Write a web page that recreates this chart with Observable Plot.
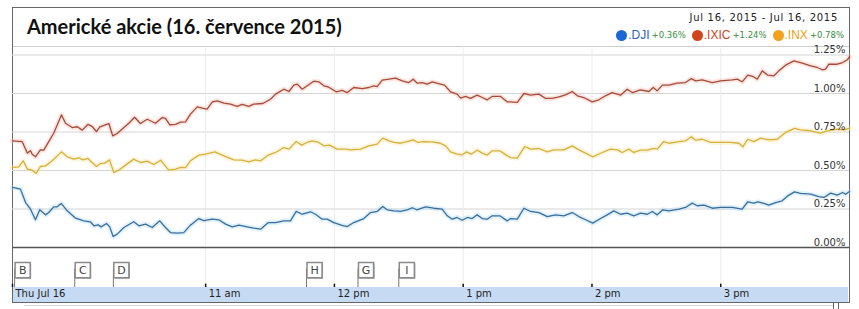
<!DOCTYPE html>
<html><head><meta charset="utf-8">
<script src="https://cdn.jsdelivr.net/npm/d3@7"></script>
<script src="https://cdn.jsdelivr.net/npm/@observablehq/plot@0.6"></script>
<style>
body{margin:0;background:#fff}
#wrap{position:relative;width:859px;height:309px;overflow:hidden;font-family:"DejaVu Sans",sans-serif}
#frame{position:absolute;left:12px;top:7px;width:838px;height:296px;box-sizing:border-box;border:1px solid #666}
#topline{position:absolute;left:13px;top:46px;width:836px;height:1px;background:#cfcfcf}
#band{position:absolute;left:13px;top:287px;width:835px;height:15px;background:#c6dbf3}
#under{position:absolute;left:24px;top:305px;width:810px;height:1px;background:#d4d4d4}
#v1{position:absolute;left:833px;top:303px;width:1px;height:6px;background:#666}
#v2{position:absolute;left:838px;top:303px;width:1px;height:6px;background:#666}
#title{position:absolute;left:27px;top:14px;font:700 20px Lato,sans-serif;color:#111;white-space:nowrap}
#range{position:absolute;right:21px;top:12px;font-size:10px;letter-spacing:.7px;color:#222;white-space:nowrap}
#legend{position:absolute;right:15px;top:28px;display:flex;align-items:center;white-space:nowrap}
.item{display:flex;align-items:center;margin-left:6px}
.dot{width:11px;height:11px;border-radius:50%;display:inline-block}
.nm{font:12px "Liberation Sans",Arial,sans-serif;margin-left:1px}
.ch{font:8.5px "DejaVu Sans",sans-serif;color:#3c8c3c;margin-left:2px}
.layer{position:absolute;left:0}
</style></head>
<body><div id="wrap">
<div id="band"></div>
<div id="frame"></div>
<div id="topline"></div>
<div id="under"></div><div id="v1"></div><div id="v2"></div>
<div id="title">Americké akcie (16. července 2015)</div>
<div id="range">Jul 16, 2015 - Jul 16, 2015</div>
<div id="legend"></div>
</div>
<script>
// [minutes after 9:30, % change]
const dji = [[0,0.390],[3.7,0.379],[6.1,0.292],[8.4,0.249],[10.7,0.180],[12.7,0.245],[15.4,0.212],[16.9,0.227],[19.2,0.264],[20.8,0.264],[22.7,0.286],[25.5,0.238],[29.4,0.190],[33.2,0.173],[36.3,0.167],[37.9,0.141],[39.9,0.147],[41.3,0.134],[43.8,0.156],[45.3,0.134],[46.9,0.071],[48.8,0.087],[51.9,0.130],[56.5,0.167],[58.9,0.141],[62.0,0.152],[65.1,0.130],[68.6,0.173],[71.3,0.130],[73.6,0.097],[76.7,0.093],[79.8,0.097],[82.9,0.145],[86.8,0.188],[89.1,0.175],[93.1,0.184],[96.1,0.180],[99.3,0.152],[102.4,0.134],[105.5,0.145],[109.4,0.134],[112.4,0.126],[115.6,0.119],[119.2,0.162],[122.6,0.162],[126.4,0.173],[129.5,0.173],[132.2,0.234],[135.0,0.216],[138.9,0.232],[141.2,0.216],[144.3,0.184],[146.6,0.184],[149.7,0.162],[153.6,0.144],[156.0,0.136],[159.0,0.162],[163.7,0.188],[166.8,0.227],[169.9,0.234],[172.5,0.266],[174.6,0.245],[177.7,0.238],[180.8,0.234],[183.9,0.245],[186.3,0.258],[188.3,0.245],[192.5,0.264],[196.3,0.255],[200.2,0.249],[202.6,0.206],[204.9,0.184],[207.2,0.195],[209.5,0.177],[211.9,0.195],[214.2,0.188],[216.5,0.212],[218.9,0.188],[221.2,0.184],[223.5,0.206],[227.1,0.206],[230.5,0.173],[232.1,0.188],[235.2,0.184],[238.3,0.255],[241.4,0.234],[245.3,0.227],[249.2,0.201],[253.0,0.212],[256.9,0.206],[260.8,0.227],[263.9,0.201],[267.0,0.180],[270.4,0.158],[274.0,0.188],[277.1,0.212],[280.2,0.238],[283.3,0.216],[286.4,0.223],[289.5,0.206],[292.6,0.223],[295.8,0.216],[298.1,0.234],[300.4,0.212],[303.0,0.245],[305.8,0.238],[310.5,0.249],[313.6,0.260],[316.7,0.288],[319.1,0.271],[322.2,0.275],[326.1,0.255],[329.9,0.260],[335.4,0.260],[340.0,0.249],[342.6,0.297],[345.4,0.288],[347.3,0.297],[350.1,0.286],[352.4,0.275],[355.6,0.292],[358.6,0.303],[361.2,0.335],[364.4,0.361],[367.2,0.351],[371.9,0.346],[375.7,0.331],[378.1,0.325],[381.2,0.353],[384.3,0.340],[386.8,0.357],[388.2,0.346],[390,0.364]];
const ixic = [[0,0.693],[4.5,0.688],[6.9,0.613],[8.4,0.628],[9.2,0.606],[10.7,0.589],[13.0,0.634],[14.6,0.632],[16.2,0.671],[19.2,0.742],[22.8,0.861],[24.7,0.807],[27.8,0.779],[30.2,0.784],[32.5,0.762],[35.1,0.799],[37.1,0.786],[39.1,0.753],[40.7,0.784],[44.9,0.805],[46.7,0.725],[48.8,0.740],[51.9,0.779],[54.2,0.807],[56.9,0.846],[59.6,0.805],[62.8,0.833],[66.6,0.807],[69.8,0.844],[71.3,0.838],[73.3,0.797],[76.0,0.799],[78.3,0.814],[80.6,0.816],[82.9,0.866],[86.1,0.913],[88.4,0.905],[90.7,0.898],[93.1,0.946],[95.4,0.952],[98.5,0.937],[101.6,0.931],[104.7,0.916],[107.0,0.929],[110.1,0.916],[112.4,0.931],[116.6,0.935],[120.2,0.963],[122.6,0.996],[126.4,1.028],[128.8,1.013],[131.1,1.054],[132.7,1.061],[135.0,1.028],[137.3,1.050],[140.4,1.080],[142.7,1.076],[145.1,1.050],[147.4,1.041],[150.8,1.011],[153.6,1.020],[156.0,1.006],[159.0,1.039],[163.0,1.032],[166.0,1.039],[168.4,1.050],[169.9,1.045],[172.3,1.087],[175.4,1.093],[178.5,1.100],[181.6,1.082],[184.7,1.071],[186.7,1.093],[188.6,1.067],[190.9,1.071],[193.2,1.061],[195.6,1.076],[199.4,1.061],[201.3,1.054],[204.1,1.011],[207.2,0.996],[208.8,0.970],[211.1,0.981],[213.4,0.968],[216.5,0.989],[218.9,0.974],[221.2,0.959],[223.5,0.981],[227.4,0.981],[230.5,0.946],[232.1,0.946],[235.2,0.942],[238.3,1.000],[241.4,0.989],[245.3,0.996],[248.4,0.968],[251.5,0.968],[254.6,0.978],[257.7,0.991],[260.8,1.013],[263.2,0.985],[266.2,0.974],[270.1,0.946],[273.2,0.959],[276.3,0.985],[279.4,1.006],[283.3,0.989],[286.4,1.028],[288.8,1.006],[292.6,1.024],[296.5,1.013],[298.6,1.039],[300.4,1.017],[302.8,1.054],[305.8,1.054],[309.7,1.067],[313.6,1.071],[316.3,1.097],[318.3,1.082],[321.4,1.089],[326.1,1.071],[329.9,1.082],[335.4,1.089],[337.7,1.093],[340.0,1.076],[342.6,1.119],[345.1,1.110],[347.0,1.093],[349.4,1.147],[351.9,1.119],[354.8,1.115],[357.1,1.147],[360.2,1.184],[364.1,1.212],[368.0,1.197],[371.9,1.180],[375.0,1.169],[377.3,1.154],[378.8,1.158],[380.4,1.190],[384.3,1.190],[386.8,1.201],[389.0,1.219],[390,1.240]];
const inx = [[0,0.519],[2.9,0.524],[5.0,0.563],[6.9,0.509],[9.2,0.502],[11.0,0.481],[13.0,0.526],[15.4,0.530],[18.5,0.563],[22.8,0.621],[25.5,0.589],[28.6,0.574],[30.9,0.582],[32.9,0.569],[35.1,0.578],[39.1,0.526],[41.0,0.545],[43.0,0.548],[45.2,0.569],[47.2,0.487],[49.5,0.502],[52.7,0.535],[56.5,0.574],[59.6,0.552],[62.8,0.561],[65.8,0.539],[69.0,0.567],[72.8,0.502],[76.0,0.509],[78.3,0.520],[80.6,0.519],[82.9,0.563],[86.8,0.600],[89.9,0.606],[94.3,0.621],[97.7,0.600],[103.1,0.569],[107.0,0.567],[110.1,0.556],[113.2,0.569],[115.6,0.563],[119.4,0.602],[122.6,0.617],[126.4,0.649],[128.8,0.639],[132.2,0.688],[134.7,0.665],[137.3,0.682],[139.7,0.693],[142.7,0.682],[145.1,0.660],[147.7,0.665],[151.3,0.639],[155.2,0.639],[157.5,0.634],[162.2,0.639],[166.0,0.660],[169.9,0.671],[172.5,0.710],[175.4,0.693],[177.7,0.682],[180.8,0.677],[183.9,0.688],[186.7,0.699],[188.9,0.682],[191.7,0.688],[195.6,0.686],[199.4,0.677],[201.8,0.660],[204.1,0.621],[207.2,0.606],[209.5,0.602],[211.6,0.621],[213.7,0.606],[216.5,0.632],[218.9,0.613],[221.2,0.600],[223.5,0.628],[227.1,0.628],[229.7,0.603],[232.1,0.584],[235.2,0.580],[238.7,0.656],[241.4,0.639],[245.3,0.643],[249.2,0.621],[252.2,0.634],[256.9,0.634],[260.8,0.660],[263.9,0.634],[267.0,0.613],[270.4,0.589],[274.8,0.617],[278.6,0.639],[281.8,0.634],[284.1,0.617],[287.2,0.639],[289.5,0.617],[292.6,0.632],[295.8,0.632],[298.8,0.643],[300.4,0.639],[303.5,0.688],[305.8,0.677],[310.5,0.688],[313.6,0.693],[316.3,0.719],[318.3,0.697],[321.4,0.703],[325.3,0.682],[329.9,0.682],[334.6,0.682],[338.5,0.677],[340.3,0.654],[342.6,0.703],[345.4,0.688],[348.6,0.710],[350.9,0.703],[353.2,0.699],[356.3,0.703],[360.2,0.747],[364.4,0.773],[367.2,0.764],[371.9,0.758],[376.5,0.742],[379.6,0.758],[384.3,0.768],[387.5,0.764],[390,0.775]];

const seriesNames = [".DJI", ".IXIC", ".INX"];
const seriesChanges = ["+0.36%", "+1.24%", "+0.78%"];
const legendColors = ["#1b67d6", "#d2441f", "#f0a21c"];
const nameColors = ["#2a62b6", "#cc4422", "#eea010"];
const lineColors = ["#3a6d9c", "#a64a3b", "#d6b03c"];
const haloColors = ["#a7d6f0", "#f2b8a6", "#f5e19a"];
const seriesData = [dji, ixic, inx];

const yTicks = [0, 0.25, 0.5, 0.75, 1.0, 1.25];
const hourMarks = [[9,30],[11,0],[12,0],[13,0],[14,0],[15,0]];
const hourLabels = ["Thu Jul 16", "11 am", "12 pm", "1 pm", "2 pm", "3 pm"];
const flagLetters = ["B", "C", "D", "H", "G", "I"];
const flagMinutes = [1, 29, 47, 137, 161, 180];

const open = new Date(2015, 6, 16, 9, 30);
const close = new Date(2015, 6, 16, 16, 0);
const T = m => new Date(+open + m * 60000);
const hourTicks = hourMarks.map(([h, m]) => new Date(2015, 6, 16, h, m));
const labelOf = d => hourLabels[hourTicks.findIndex(t => +t === +d)];
const flags = flagLetters.map((l, i) => ({l, t: T(flagMinutes[i])}));

// legend
const lg = document.getElementById("legend");
seriesNames.forEach((n, i) => {
  const it = document.createElement("div"); it.className = "item";
  it.innerHTML = `<span class="dot" style="background:${legendColors[i]}"></span><span class="nm" style="color:${nameColors[i]}">${n}</span><span class="ch">${seriesChanges[i]}</span>`;
  lg.appendChild(it);
});

const xcfg = {type: "time", domain: [open, close], axis: null};
const lineMarks = seriesData.flatMap((s, i) => [
  Plot.line(s, {x: d => T(d[0]), y: d => d[1], stroke: haloColors[i], strokeWidth: 5, strokeOpacity: 0.35}),
  Plot.line(s, {x: d => T(d[0]), y: d => d[1], stroke: lineColors[i], strokeWidth: 1.3})
]);

const main = Plot.plot({
  width: 859, height: 309,
  marginLeft: 12, marginRight: 10, marginTop: 54.5, marginBottom: 62,
  x: xcfg,
  y: {domain: [0, 1.25], axis: null},
  style: {background: "transparent", fontFamily: "DejaVu Sans", fontSize: "10px", color: "#333", overflow: "visible"},
  marks: [
    Plot.ruleY(yTicks, {stroke: "#d4d4d4"}),
    Plot.ruleX(hourTicks.slice(1), {stroke: "#ececec", insetTop: -8, insetBottom: -40}),
    ...lineMarks,
    Plot.ruleY([0], {stroke: "#555", strokeWidth: 1.6}),
    Plot.text(yTicks, {y: d => d, frameAnchor: "right", text: d => d.toFixed(2) + "%", textAnchor: "end", dx: -4, dy: -5, fill: "#333", letterSpacing: 0.5})
  ]
});
main.classList.add("layer"); main.style.top = "0px";
document.getElementById("wrap").appendChild(main);

const strip = Plot.plot({
  width: 859, height: 52,
  marginLeft: 12, marginRight: 10, marginTop: 0, marginBottom: 15,
  x: xcfg,
  y: {domain: [0, 1], axis: null},
  style: {background: "transparent", fontFamily: "DejaVu Sans", fontSize: "10px", color: "#222", overflow: "visible"},
  marks: [
    Plot.ruleX(flags, {x: "t", y1: 0, y2: 0.5, stroke: "#777"}),
    Plot.dot(flags, {x: "t", y: 0.47, dx: 9, dy: 1, symbol: "square", r: 8.5, fill: "#9a9a9a"}),
    Plot.dot(flags, {x: "t", y: 0.47, dx: 8, symbol: "square", r: 8.5, fill: "white", stroke: "#8a8a8a"}),
    Plot.text(flags, {x: "t", y: 0.47, dx: 8, text: "l", fontSize: 11, fill: "#444"}),
    Plot.ruleX(hourTicks, {y1: 0, y2: 0.09, stroke: "#111", strokeWidth: 1.5}),
    Plot.axisX({ticks: hourTicks, tickSize: 0, tickPadding: 2, tickFormat: labelOf, textAnchor: "start", dx: 3, fontSize: 10, label: null})
  ]
});
strip.classList.add("layer"); strip.style.top = "250px";
document.getElementById("wrap").appendChild(strip);
</script>
</body></html>
